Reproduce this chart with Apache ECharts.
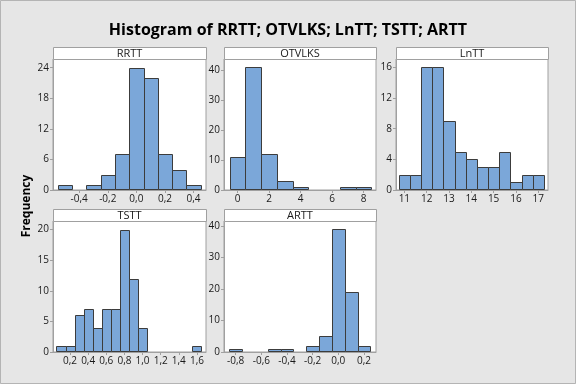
<!DOCTYPE html>
<html>
<head>
<meta charset="utf-8">
<script src="https://cdn.jsdelivr.net/npm/echarts@6/dist/echarts.min.js"></script>
<style>html,body{margin:0;padding:0;background:#e6e6e6;}#c{width:576px;height:384px;}</style>
</head>
<body>
<div id="c"></div>
<script>
// ---- data ----
const rrttBins = [-0.5, -0.4, -0.3, -0.2, -0.1, 0.0, 0.1, 0.2, 0.3, 0.4];
const rrttCounts = [1, 0, 1, 3, 7, 24, 22, 7, 4, 1];
const otvlksBins = [0, 1, 2, 3, 4, 5, 6, 7, 8];
const otvlksCounts = [11, 41, 12, 3, 1, 0, 0, 1, 1];
const lnttBins = [11, 11.5, 12, 12.5, 13, 13.5, 14, 14.5, 15, 15.5, 16, 16.5, 17];
const lnttCounts = [2, 2, 16, 16, 9, 5, 4, 3, 3, 5, 1, 2, 2];
const tsttBins = [0.1, 0.2, 0.3, 0.4, 0.5, 0.6, 0.7, 0.8, 0.9, 1.0, 1.1, 1.2, 1.3, 1.4, 1.5, 1.6];
const tsttCounts = [1, 1, 6, 7, 4, 7, 7, 20, 12, 4, 0, 0, 0, 0, 0, 1];
const arttBins = [-0.8, -0.7, -0.6, -0.5, -0.4, -0.3, -0.2, -0.1, 0.0, 0.1, 0.2];
const arttCounts = [1, 0, 0, 1, 1, 0, 2, 5, 39, 19, 2];

const rrttXTicks = [-0.4, -0.2, 0, 0.2, 0.4];
const rrttYTicks = [0, 6, 12, 18, 24];
const otvlksXTicks = [0, 2, 4, 6, 8];
const otvlksYTicks = [0, 10, 20, 30, 40];
const lnttXTicks = [11, 12, 13, 14, 15, 16, 17];
const lnttYTicks = [0, 4, 8, 12, 16];
const tsttXTicks = [0.2, 0.4, 0.6, 0.8, 1.0, 1.2, 1.4, 1.6];
const tsttYTicks = [0, 5, 10, 15, 20];
const arttXTicks = [-0.8, -0.6, -0.4, -0.2, 0, 0.2];
const arttYTicks = [0, 10, 20, 30, 40];

const panelNames = ['RRTT', 'OTVLKS', 'LnTT', 'TSTT', 'ARTT'];
const binWidths = [0.1, 1, 0.5, 0.1, 0.1];

// ---- layout / view ----
const panels = [
  {name: panelNames[0], bins: rrttBins, counts: rrttCounts, w: binWidths[0], xt: rrttXTicks, yt: rrttYTicks, xr: [-0.583, 0.487], ymax: 25.7, dec: 1, left: 53, top: 59, width: 153},
  {name: panelNames[1], bins: otvlksBins, counts: otvlksCounts, w: binWidths[1], xt: otvlksXTicks, yt: otvlksYTicks, xr: [-0.857, 8.79], ymax: 43.7, dec: 0, left: 224, top: 59, width: 152},
  {name: panelNames[2], bins: lnttBins, counts: lnttCounts, w: binWidths[2], xt: lnttXTicks, yt: lnttYTicks, xr: [10.626, 17.437], ymax: 17.1, dec: 0, left: 396, top: 59, width: 152},
  {name: panelNames[3], bins: tsttBins, counts: tsttCounts, w: binWidths[3], xt: tsttXTicks, yt: tsttYTicks, xr: [0.012, 1.70], ymax: 21.4, dec: 1, left: 53, top: 221, width: 153},
  {name: panelNames[4], bins: arttBins, counts: arttCounts, w: binWidths[4], xt: arttXTicks, yt: arttYTicks, xr: [-0.891, 0.294], ymax: 41.6, dec: 1, left: 224, top: 221, width: 152}
];
const plotH = 131, stripH = 12;
const FONT = 'Open Sans';
const gridLine = '#a0a0a0';

function fmt(dec) {
  return function (v) {
    const s = Math.abs(v) < 1e-9 ? (0).toFixed(dec) : v.toFixed(dec);
    return s.replace('.', ',');
  };
}

const grid = [], xAxis = [], yAxis = [], series = [], graphic = [];
panels.forEach((p, i) => {
  grid.push({left: p.left, top: p.top, width: p.width, height: plotH, show: true,
    backgroundColor: '#ffffff', borderColor: gridLine, borderWidth: 1, containLabel: false});
  xAxis.push({type: 'value', gridIndex: i, min: p.xr[0], max: p.xr[1], position: 'bottom',
    splitLine: {show: false},
    axisLine: {show: true, onZero: false, lineStyle: {color: gridLine}},
    axisTick: {show: true, length: 3, inside: false, customValues: p.xt, lineStyle: {color: gridLine}},
    axisLabel: {customValues: p.xt, formatter: fmt(p.dec), color: '#1a1a1a', fontFamily: FONT, fontSize: 10, margin: 4}
  });
  yAxis.push({type: 'value', gridIndex: i, min: 0, max: p.ymax, position: 'left',
    splitLine: {show: false},
    axisLine: {show: true, onZero: false, lineStyle: {color: gridLine}},
    axisTick: {show: true, length: 3, inside: false, customValues: p.yt, lineStyle: {color: gridLine}},
    axisLabel: {customValues: p.yt, color: '#1a1a1a', fontFamily: FONT, fontSize: 10, margin: 4}
  });
  series.push({
    type: 'custom', xAxisIndex: i, yAxisIndex: i,
    data: p.bins.map((b, k) => [b, p.counts[k]]),
    clip: false,
    renderItem: function (params, api) {
      const c = api.value(0), v = api.value(1);
      if (!v) return null;
      const a = api.coord([c - p.w / 2, v]);
      const b = api.coord([c + p.w / 2, 0]);
      const x0 = Math.round(a[0]) + 0.5, x1 = Math.round(b[0]) + 0.5;
      const y0 = Math.round(a[1]) + 0.5, y1 = Math.round(b[1]) - 0.5;
      return {type: 'rect', shape: {x: x0, y: y0, width: x1 - x0, height: y1 - y0},
        style: {fill: '#7ba7d9', stroke: '#3c3c3c', lineWidth: 1}};
    }
  });
  graphic.push({type: 'rect', shape: {x: p.left + 0.5, y: p.top - stripH + 0.5, width: p.width, height: stripH},
    style: {fill: '#ffffff', stroke: gridLine, lineWidth: 1}, z: 10});
  graphic.push({type: 'text', x: p.left + p.width / 2, y: p.top - stripH / 2 + 0.5,
    style: {text: p.name, fill: '#1a1a1a', font: '11px "' + FONT + '"', align: 'center', verticalAlign: 'middle'}, z: 11});
});

graphic.push({type: 'text', x: 27, y: 206, rotation: Math.PI / 2,
  style: {text: 'Frequency', fill: '#000', font: 'bold 12px "' + FONT + '"', align: 'center', verticalAlign: 'middle'}});
graphic.push({type: 'rect', shape: {x: 0.5, y: 0.5, width: 575, height: 383},
  style: {fill: 'none', stroke: '#b4b4b4', lineWidth: 1}, z: 20});

const chart = echarts.init(document.getElementById('c'), null, {renderer: 'canvas'});
chart.setOption({
  backgroundColor: '#e6e6e6',
  animation: false,
  title: {text: 'Histogram of RRTT; OTVLKS; LnTT; TSTT; ARTT', left: 'center', top: 17,
    textStyle: {fontFamily: FONT, fontSize: 16, fontWeight: 'bold', color: '#000'}},
  grid: grid, xAxis: xAxis, yAxis: yAxis, series: series, graphic: graphic
});
</script>
</body>
</html>
